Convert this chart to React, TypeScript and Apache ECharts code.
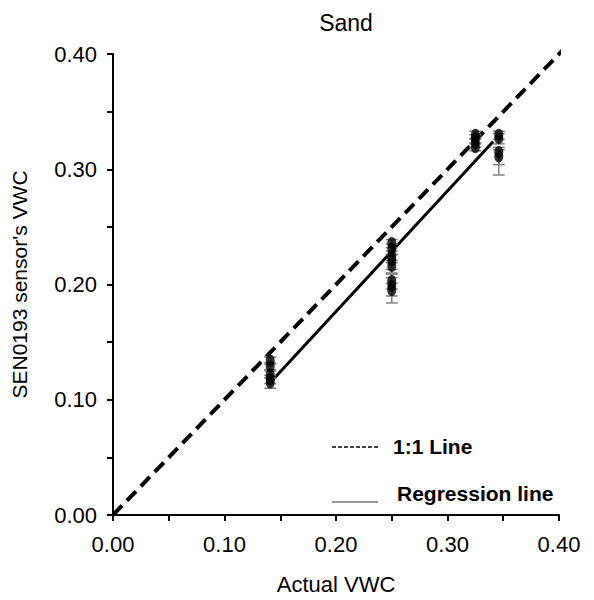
import React, { useEffect, useRef } from "react";
import * as echarts from "echarts";

const titleText = "Sand";
const xAxisName = "Actual VWC";
const yAxisName = "SEN0193 sensor's VWC";

// measured points (actual VWC, sensor VWC) and error bar ranges
const actualVWC = [
  0.141, 0.141, 0.141, 0.141, 0.141,
  0.25, 0.25, 0.25, 0.25, 0.25, 0.25, 0.25, 0.25,
  0.325, 0.325, 0.325, 0.325,
  0.346, 0.346, 0.346, 0.346,
];
const sensorVWC = [
  0.134, 0.129, 0.122, 0.118, 0.115,
  0.236, 0.231, 0.225, 0.221, 0.216, 0.203, 0.199, 0.195,
  0.330, 0.327, 0.323, 0.319,
  0.330, 0.327, 0.315, 0.311,
];
const errLow = [
  0.131, 0.126, 0.119, 0.114, 0.110,
  0.232, 0.226, 0.219, 0.213, 0.210, 0.196, 0.190, 0.184,
  0.327, 0.323, 0.319, 0.316,
  0.326, 0.322, 0.304, 0.295,
];
const errHigh = [
  0.137, 0.132, 0.125, 0.121, 0.119,
  0.239, 0.235, 0.229, 0.226, 0.221, 0.209, 0.206, 0.201,
  0.333, 0.330, 0.326, 0.322,
  0.333, 0.331, 0.319, 0.317,
];

const oneToOneX = [0, 0.408];
const oneToOneY = [0, 0.408];
const regressionX = [0.143, 0.341];
const regressionY = [0.117, 0.324];

const legendLabels = ["1:1 Line", "Regression line"];

export default function App() {
  const ref = useRef<HTMLDivElement>(null);
  useEffect(() => {
    if (!ref.current) return;
    document.body.style.margin = "0";
    const chart = echarts.init(ref.current, null, { renderer: "svg" });
    const font = "Liberation Sans, Arial, sans-serif";
    const fmt = (v: number) =>
      Math.round(v * 100) % 10 === 0 ? v.toFixed(2) : "";
    const points = actualVWC.map((x, i) => [x, sensorVWC[i]]);
    const errData = actualVWC.map((x, i) => [x, errLow[i], errHigh[i]]);
    chart.setOption({
      animation: false,
      backgroundColor: "#ffffff",
      title: {
        text: titleText,
        left: 341,
        top: 6,
        textAlign: "center",
        textStyle: { fontFamily: font, fontSize: 23, fontWeight: "normal", color: "#000" },
      },
      grid: { left: 113, right: 35, top: 54, bottom: 82, containLabel: false },
      xAxis: {
        type: "value",
        min: 0,
        max: 0.4,
        interval: 0.05,
        name: xAxisName,
        nameLocation: "middle",
        nameGap: 58,
        nameTextStyle: { fontFamily: font, fontSize: 22, color: "#000" },
        axisLine: { lineStyle: { color: "#000", width: 2 } },
        axisTick: { show: true, length: 6, lineStyle: { color: "#000", width: 2 } },
        axisLabel: { formatter: fmt, fontFamily: font, fontSize: 22, color: "#000", margin: 18 },
        splitLine: { show: false },
      },
      yAxis: {
        type: "value",
        min: 0,
        max: 0.4,
        interval: 0.05,
        name: yAxisName,
        nameLocation: "middle",
        nameGap: 83,
        nameTextStyle: { fontFamily: font, fontSize: 21, color: "#000" },
        axisLine: { show: true, lineStyle: { color: "#000", width: 2 } },
        axisTick: { show: true, length: 6, lineStyle: { color: "#000", width: 2 } },
        axisLabel: { formatter: fmt, fontFamily: font, fontSize: 22, color: "#000", margin: 16 },
        splitLine: { show: false },
      },
      series: [
        {
          type: "line",
          data: oneToOneX.map((x, i) => [x, oneToOneY[i]]),
          symbol: "none",
          clip: false,
          lineStyle: { color: "#000", width: 4, type: [13, 7] },
          z: 3,
        },
        {
          type: "line",
          data: regressionX.map((x, i) => [x, regressionY[i]]),
          symbol: "none",
          lineStyle: { color: "#000", width: 3 },
          z: 3,
        },
        {
          type: "custom",
          data: errData,
          z: 4,
          renderItem: (params: any, api: any) => {
            const x = api.value(0);
            const lo = api.coord([x, api.value(1)]);
            const hi = api.coord([x, api.value(2)]);
            const w = 6;
            const style = { stroke: "#7f7f7f", lineWidth: 1.5 };
            return {
              type: "group",
              children: [
                { type: "line", shape: { x1: lo[0], y1: lo[1], x2: hi[0], y2: hi[1] }, style },
                { type: "line", shape: { x1: lo[0] - w, y1: lo[1], x2: lo[0] + w, y2: lo[1] }, style },
                { type: "line", shape: { x1: hi[0] - w, y1: hi[1], x2: hi[0] + w, y2: hi[1] }, style },
              ],
            };
          },
        },
        {
          type: "scatter",
          data: points,
          symbol: "circle",
          symbolSize: [9, 12],
          itemStyle: { color: "#000" },
          z: 5,
        },
      ],
      graphic: [
        {
          type: "line",
          shape: { x1: 332, y1: 447, x2: 378, y2: 447 },
          style: { stroke: "#000", lineWidth: 1.5, lineDash: [4, 2] },
        },
        {
          type: "text",
          x: 393,
          y: 446,
          style: {
            text: legendLabels[0],
            font: "bold 21px Liberation Sans, Arial, sans-serif",
            fill: "#000",
            textVerticalAlign: "middle",
          },
        },
        {
          type: "line",
          shape: { x1: 332, y1: 502, x2: 378, y2: 502 },
          style: { stroke: "#333", lineWidth: 1 },
        },
        {
          type: "text",
          x: 397,
          y: 493,
          style: {
            text: legendLabels[1],
            font: "bold 21px Liberation Sans, Arial, sans-serif",
            fill: "#000",
            textVerticalAlign: "middle",
          },
        },
      ],
    });
    return () => chart.dispose();
  }, []);
  return <div ref={ref} style={{ width: 594, height: 600 }} />;
}
